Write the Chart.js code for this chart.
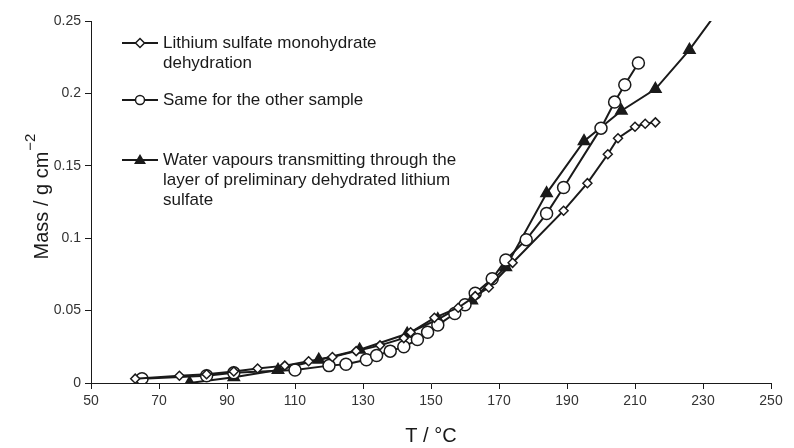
<!DOCTYPE html>
<html>
<head>
<meta charset="utf-8">
<script src="https://cdn.jsdelivr.net/npm/chart.js@4.4.1/dist/chart.umd.min.js"></script>
<style>
  html, body { margin: 0; padding: 0; background: #fff; }
  #wrap { width: 794px; height: 448px; }
</style>
</head>
<body>
<div id="wrap"><canvas id="chart" width="794" height="448"></canvas></div>
<script>
(function () {
    'use strict';

    // Lithium sulfate monohydrate dehydration (open diamonds)
    var monoT = [63, 76, 84, 92, 99, 107, 114, 121, 128, 135, 142, 144, 151, 158, 163, 167, 174, 189, 196, 202, 205, 210, 213, 216];
    var monoM = [0.003, 0.005, 0.006, 0.008, 0.010, 0.012, 0.015, 0.018, 0.022, 0.026, 0.031, 0.035, 0.045, 0.052, 0.060, 0.066, 0.083, 0.119, 0.138, 0.158, 0.169, 0.177, 0.179, 0.180];

    // Same for the other sample (open circles)
    var otherT = [65, 84, 92, 110, 120, 125, 131, 134, 138, 142, 146, 149, 152, 157, 160, 163, 168, 172, 178, 184, 189, 200, 204, 207, 211];
    var otherM = [0.003, 0.005, 0.007, 0.009, 0.012, 0.013, 0.016, 0.019, 0.022, 0.025, 0.030, 0.035, 0.040, 0.048, 0.054, 0.062, 0.072, 0.085, 0.099, 0.117, 0.135, 0.176, 0.194, 0.206, 0.221];

    // Water vapours through pre-dehydrated layer (filled triangles)
    var vapourT = [79, 92, 105, 117, 129, 143, 152, 162, 172, 184, 195, 206, 216, 226, 240];
    var vapourM = [0.000, 0.004, 0.009, 0.016, 0.023, 0.034, 0.044, 0.057, 0.080, 0.131, 0.167, 0.188, 0.203, 0.230, 0.275];

    var legendLabels = [
        ['Lithium sulfate monohydrate', 'dehydration'],
        ['Same for the other sample'],
        ['Water vapours transmitting through the', 'layer of preliminary dehydrated lithium', 'sulfate']
    ];

    var xTitle = 'T / \u00B0C';
    var yTitleMain = 'Mass / g cm';
    var yTitleSup = '\u22122';

    var INK = '#1a1a1a';
    var FONT = '"Liberation Sans", Arial, sans-serif';

    function toPoints(xs, ys) {
        var out = [];
        for (var i = 0; i < xs.length; i++) {
            out.push({ x: xs[i], y: ys[i] });
        }
        return out;
    }

    function drawMarker(ctx, style, x, y) {
        ctx.save();
        ctx.lineWidth = 1.5;
        ctx.strokeStyle = INK;
        ctx.beginPath();
        if (style === 'rectRot') {
            ctx.moveTo(x, y - 4.5);
            ctx.lineTo(x + 4.5, y);
            ctx.lineTo(x, y + 4.5);
            ctx.lineTo(x - 4.5, y);
            ctx.closePath();
            ctx.fillStyle = '#fff';
            ctx.fill();
            ctx.stroke();
        } else if (style === 'circle') {
            ctx.arc(x, y, 4.5, 0, Math.PI * 2);
            ctx.fillStyle = '#fff';
            ctx.fill();
            ctx.stroke();
        } else {
            ctx.moveTo(x, y - 6);
            ctx.lineTo(x + 6, y + 4);
            ctx.lineTo(x - 6, y + 4);
            ctx.closePath();
            ctx.fillStyle = INK;
            ctx.fill();
        }
        ctx.restore();
    }

    var annotations = {
        id: 'annotations',
        afterDraw: function (chart) {
            var ctx = chart.ctx;
            var styles = ['rectRot', 'circle', 'triangle'];
            var rowY = [43, 100, 160];

            ctx.save();
            ctx.font = '17px ' + FONT;
            ctx.fillStyle = INK;
            ctx.textBaseline = 'middle';
            for (var i = 0; i < legendLabels.length; i++) {
                var y = rowY[i];
                ctx.beginPath();
                ctx.strokeStyle = INK;
                ctx.lineWidth = 2;
                ctx.moveTo(122, y);
                ctx.lineTo(158, y);
                ctx.stroke();
                drawMarker(ctx, styles[i], 140, y);
                for (var j = 0; j < legendLabels[i].length; j++) {
                    ctx.fillText(legendLabels[i][j], 163, y + j * 20);
                }
            }
            ctx.restore();

            // y-axis title with superscript
            ctx.save();
            ctx.fillStyle = INK;
            ctx.translate(40, 197);
            ctx.rotate(-Math.PI / 2);
            ctx.font = '20px ' + FONT;
            var w1 = ctx.measureText(yTitleMain).width;
            ctx.font = '15px ' + FONT;
            var w2 = ctx.measureText(yTitleSup).width;
            var start = -(w1 + w2) / 2;
            ctx.textBaseline = 'alphabetic';
            ctx.textAlign = 'left';
            ctx.font = '20px ' + FONT;
            ctx.fillText(yTitleMain, start, 8);
            ctx.font = '15px ' + FONT;
            ctx.fillText(yTitleSup, start + w1 + 1, -5);
            ctx.restore();
        }
    };

    var lineBase = {
        borderColor: INK,
        borderWidth: 2,
        pointBorderColor: INK,
        pointBorderWidth: 1.5,
        tension: 0,
        fill: false
    };

    function makeSet(label, xs, ys, style, radius, bg) {
        var ds = Object.assign({}, lineBase);
        ds.label = label;
        ds.data = toPoints(xs, ys);
        ds.pointStyle = style;
        ds.pointRadius = radius;
        ds.pointBackgroundColor = bg;
        return ds;
    }

    new Chart(document.getElementById('chart'), {
        type: 'line',
        data: {
            datasets: [
                makeSet(legendLabels[0].join(' '), monoT, monoM, 'rectRot', 4.5, '#fff'),
                makeSet(legendLabels[1].join(' '), otherT, otherM, 'circle', 6, '#fff'),
                makeSet(legendLabels[2].join(' '), vapourT, vapourM, 'triangle', 6.5, INK)
            ]
        },
        options: {
            responsive: false,
            animation: false,
            layout: { padding: { top: 21, right: 23, left: 0, bottom: 0 } },
            plugins: {
                legend: { display: false },
                tooltip: { enabled: false }
            },
            scales: {
                x: {
                    type: 'linear',
                    min: 50,
                    max: 250,
                    afterFit: function (s) { s.height = 65; },
                    ticks: {
                        stepSize: 20,
                        color: '#333',
                        font: { family: FONT, size: 14 },
                        padding: 4,
                        maxRotation: 0
                    },
                    grid: { drawOnChartArea: false, color: INK, tickLength: 6 },
                    border: { color: INK, width: 1 },
                    title: {
                        display: true,
                        text: xTitle,
                        color: INK,
                        font: { family: FONT, size: 20 },
                        padding: { top: 2, bottom: 0 }
                    }
                },
                y: {
                    min: 0,
                    max: 0.25,
                    afterFit: function (s) { s.width = 91; },
                    ticks: {
                        stepSize: 0.05,
                        color: '#333',
                        font: { family: FONT, size: 14 },
                        padding: 4,
                        callback: function (v) {
                            return String(Math.round(v * 100) / 100);
                        }
                    },
                    grid: { drawOnChartArea: false, color: INK, tickLength: 6 },
                    border: { color: INK, width: 1 }
                }
            }
        },
        plugins: [annotations]
    });
})();
</script>
</body>
</html>
